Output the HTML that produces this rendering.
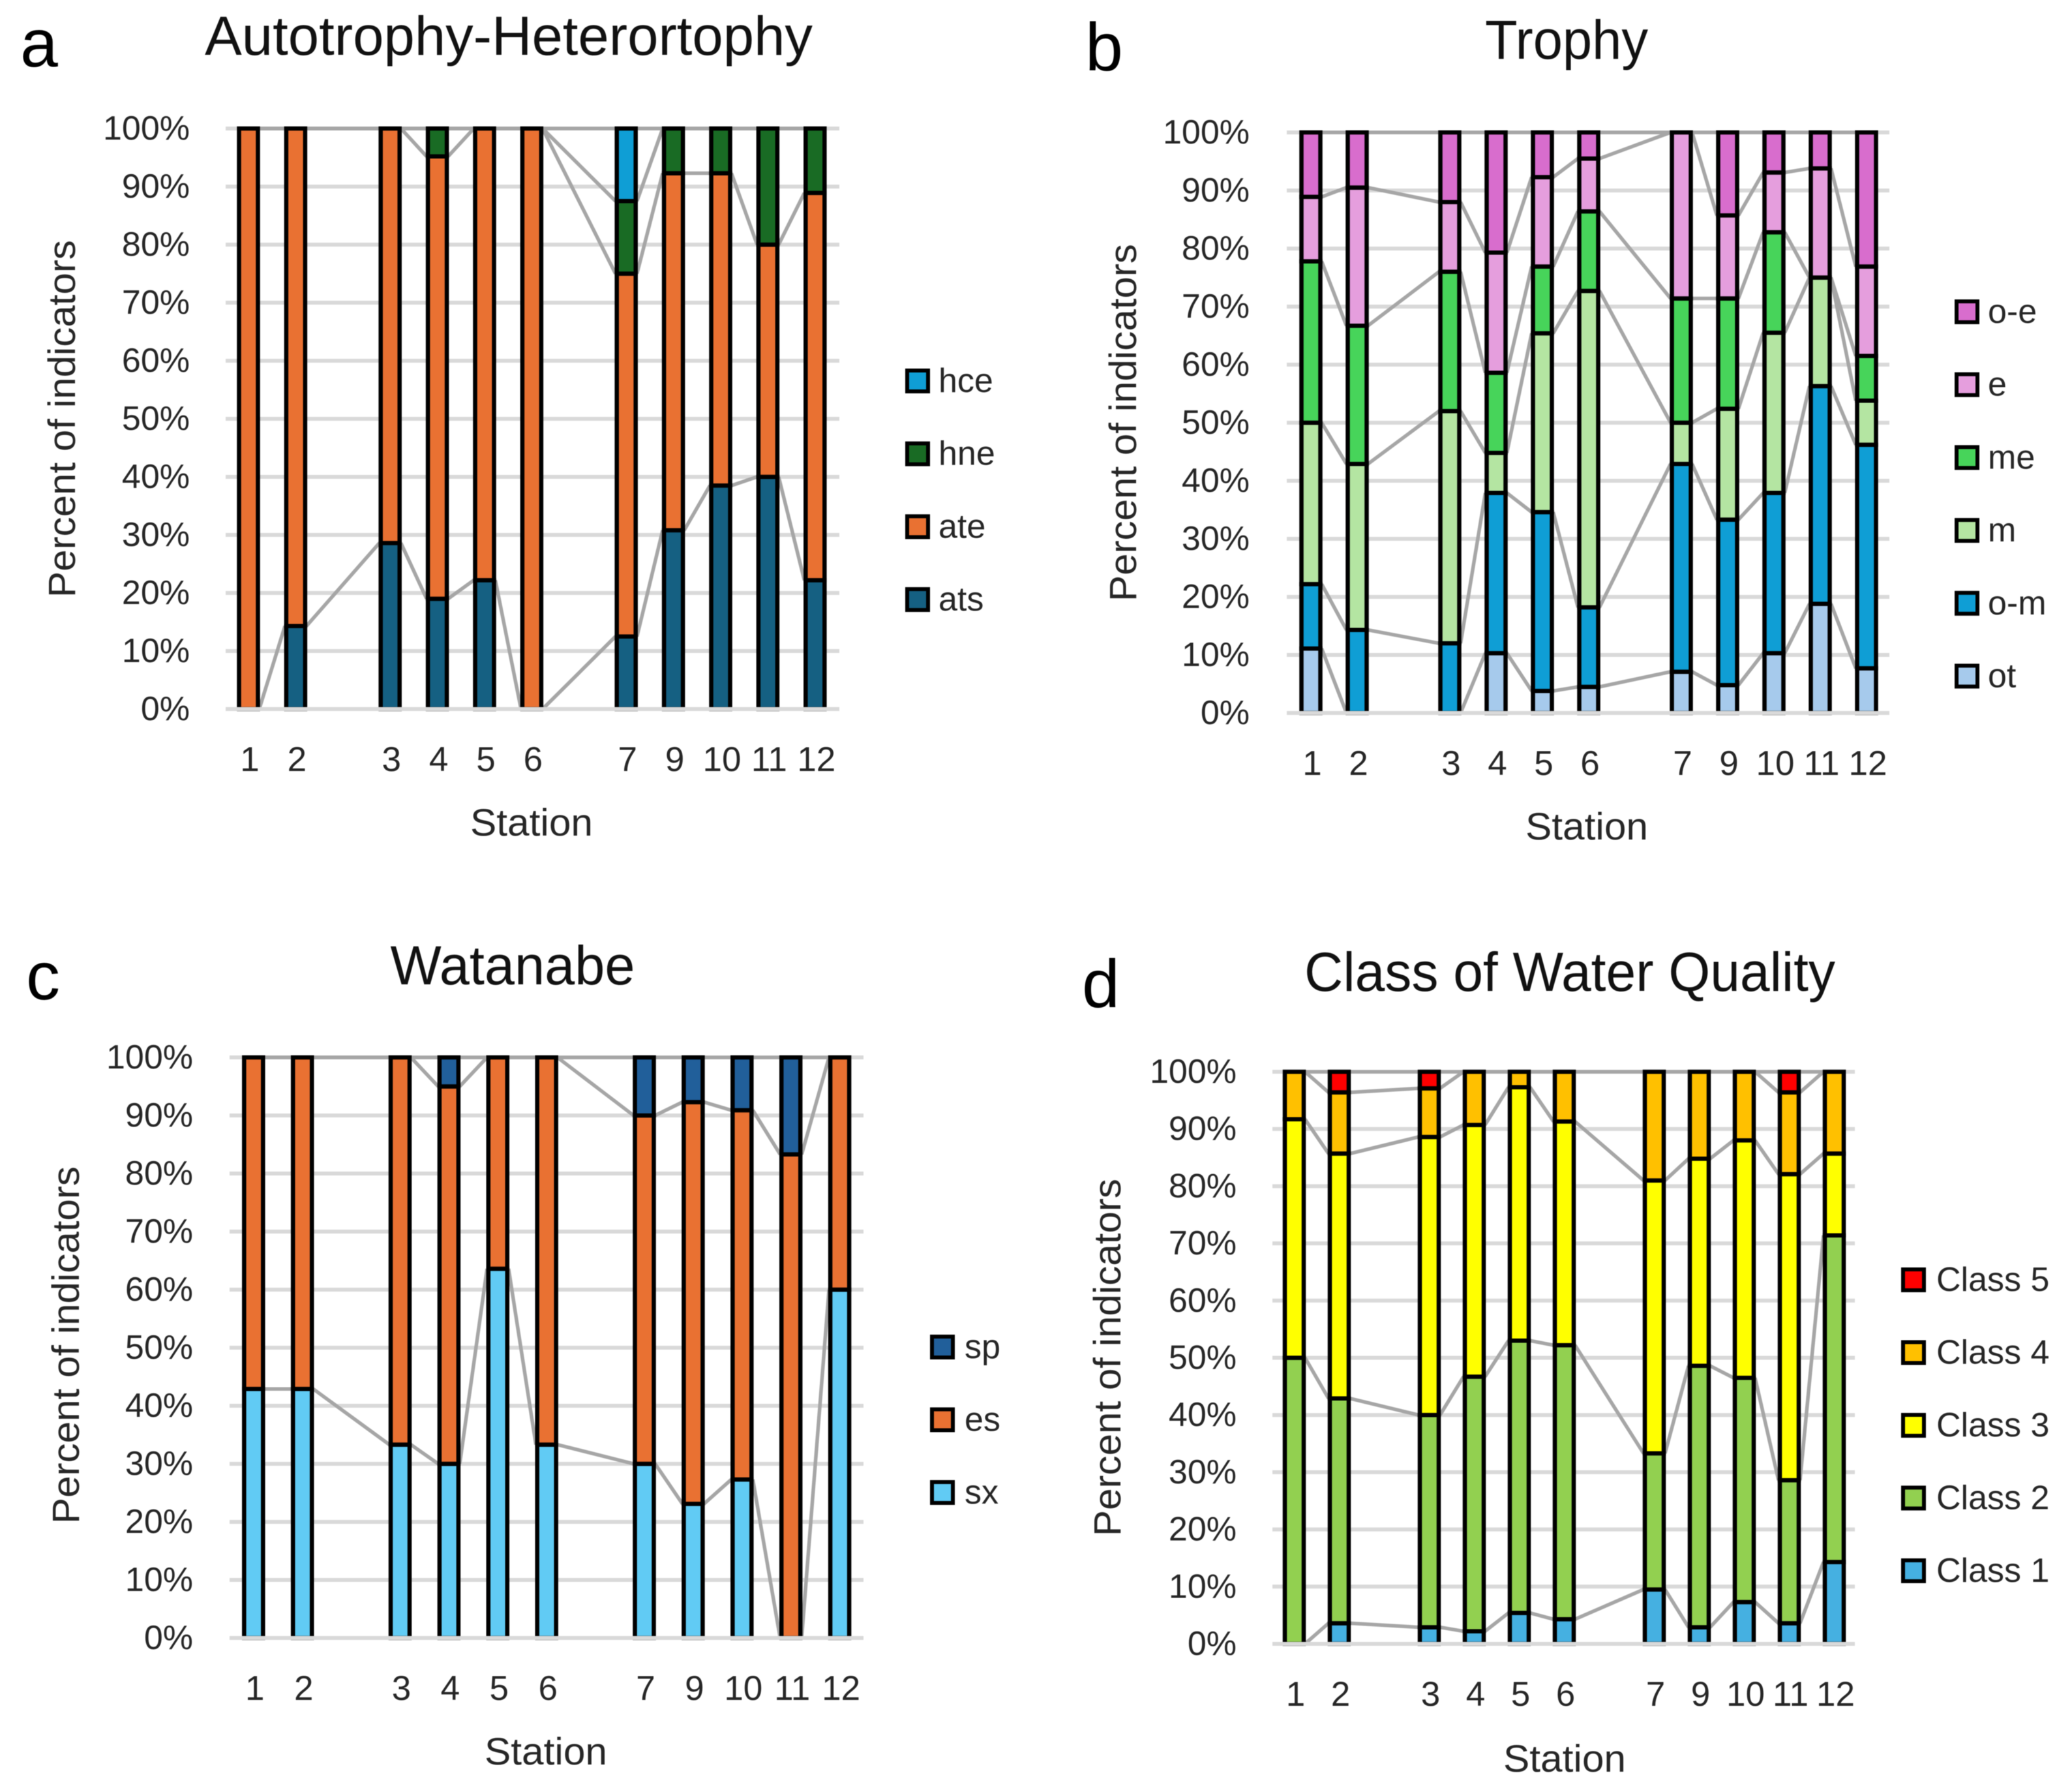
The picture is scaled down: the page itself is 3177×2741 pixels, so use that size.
<!DOCTYPE html>
<html lang="en">
<head>
<meta charset="utf-8">
<title>Indicator composition by station</title>
<style>
html,body{margin:0;padding:0;background:#fff;}
body{width:3177px;height:2741px;overflow:hidden;}
svg{display:block;filter:blur(0.5px);}
text{font-family:"Liberation Sans",sans-serif;}
</style>
</head>
<body>
<svg id="figure" xmlns="http://www.w3.org/2000/svg" width="3177" height="2741" viewBox="0 0 3177 2741"></svg>
<script>
// Shared axes data
const categories = ["1","2","","3","4","5","6","","7","9","10","11","12"];
const yTicks = [0,10,20,30,40,50,60,70,80,90,100];

// Panel a: Autotrophy-Heterortophy
const aNames = ["ats","ate","hne","hce"];
const aColors = ["#156082","#E97132","#196B24","#0F9ED5"];
const aAts = [0,14.3,null,28.6,19,22.2,0,null,12.5,30.8,38.5,40,22.2];
const aAte = [100,85.7,null,71.4,76.2,77.8,100,null,62.5,61.5,53.8,40,66.7];
const aHne = [0,0,null,0,4.8,0,0,null,12.5,7.7,7.7,20,11.1];
const aHce = [0,0,null,0,0,0,0,null,12.5,0,0,0,0];

// Panel b: Trophy
const bNames = ["ot","o-m","m","me","e","o-e"];
const bColors = ["#A6CAEC","#0F9ED5","#B4E5A2","#47D45A","#E59EDD","#D86DCD"];
const bOt = [11.1,0,null,0,10.3,3.8,4.5,null,7.1,4.8,10.3,18.8,7.7];
const bOm = [11.1,14.3,null,12,27.6,30.8,13.7,null,35.8,28.5,27.6,37.5,38.5];
const bM  = [27.8,28.6,null,40,6.9,30.8,54.5,null,7.1,19.1,27.6,18.7,7.6];
const bMe = [27.8,23.8,null,24,13.8,11.5,13.7,null,21.4,19,17.3,0,7.7];
const bE  = [11.1,23.8,null,12,20.7,15.4,9.1,null,28.6,14.3,10.3,18.8,15.4];
const bOe = [11.1,9.5,null,12,20.7,7.7,4.5,null,0,14.3,6.9,6.2,23.1];

// Panel c: Watanabe
const cNames = ["sx","es","sp"];
const cColors = ["#61CBF4","#E97132","#215F9A"];
const cSx = [42.9,42.9,null,33.3,30,63.6,33.3,null,30,23.1,27.3,0,60];
const cEs = [57.1,57.1,null,66.7,65,36.4,66.7,null,60,69.2,63.6,83.3,40];
const cSp = [0,0,null,0,5,0,0,null,10,7.7,9.1,16.7,0];

// Panel d: Class of Water Quality
const dNames = ["Class 1","Class 2","Class 3","Class 4","Class 5"];
const dColors = ["#45B0E1","#92D050","#FFFF00","#FFC000","#FF0000"];
const dC1 = [0,3.6,null,2.9,2.2,5.4,4.3,null,9.5,2.9,7.3,3.6,14.3];
const dC2 = [50,39.3,null,37.1,44.5,47.6,47.9,null,23.8,45.7,39.2,25,57.1];
const dC3 = [41.7,42.8,null,48.6,44,44.3,39.1,null,47.7,36.2,41.5,53.5,14.3];
const dC4 = [8.3,10.7,null,8.5,9.3,2.7,8.7,null,19,15.2,12,14.3,14.3];
const dC5 = [0,3.6,null,2.9,0,0,0,null,0,0,0,3.6,0];

const NS = "http://www.w3.org/2000/svg";
const figure = document.getElementById("figure");

function make(parent, tag, attrs, content) {
  const node = document.createElementNS(NS, tag);
  for (const k in attrs) node.setAttribute(k, attrs[k]);
  if (content !== undefined) node.textContent = content;
  parent.appendChild(node);
  return node;
}

function drawPanel(p) {
  const g = make(figure, "g", {});
  
  

  const xScale = i => p.x0 + i * p.step;
  const yScale = v => p.y0 + (p.y100 - p.y0) * v / 100;
  const halfBar = 14.5;

  const letter = make(g, "text", {x:p.letterX, y:p.letterY, "font-size":104, fill:"#000"}, p.letter);
  
  

  const title = make(g, "text", {x:p.titleX, y:p.titleY, "font-size":84, fill:"#111", "text-anchor":"middle", textLength:p.titleW, lengthAdjust:"spacingAndGlyphs"}, p.title);
  
  

  yTicks.forEach(t => {
    const grid = make(g, "line", {x1:p.gridL, x2:p.gridR, y1:yScale(t), y2:yScale(t), stroke:"#D9D9D9", "stroke-width":6});
    
    
    const tick = make(g, "text", {x:p.tickX, y:yScale(t) + 17, "font-size":52, fill:"#262626", "text-anchor":"end"}, t + "%");
    
    
  });

  const present = categories.map((c, i) => i).filter(i => p.series[0][i] !== null);

  // cumulative tops per series
  const tops = p.series.map((s, k) => categories.map((c, i) => {
    if (s[i] === null) return null;
    let sum = 0;
    for (let j = 0; j <= k; j++) sum += p.series[j][i];
    return sum;
  }));

  // connecting series lines
  tops.forEach(top => {
    for (let n = 0; n + 1 < present.length; n++) {
      const a = present[n], b = present[n + 1];
      const link = make(g, "line", {x1:xScale(a) + halfBar + 2, x2:xScale(b) - halfBar - 2, y1:yScale(top[a]), y2:yScale(top[b]), stroke:"#A6A6A6", "stroke-width":5.5});
      
      
    }
  });

  // stacked bars
  present.forEach(i => {
    let base = 0;
    p.series.forEach((s, k) => {
      const v = s[i];
      if (v > 0) {
        const yTop = yScale(base + v), yBot = yScale(base);
        const bar = make(g, "rect", {x:xScale(i) - halfBar, y:yTop, width:halfBar * 2, height:yBot - yTop, fill:p.colors[k], stroke:"#000", "stroke-width":6.5});
        
        
      }
      base += v;
    });
  });

  // baseline sits over the bar bottoms
  const baseline = make(g, "line", {x1:p.gridL, x2:p.gridR, y1:p.y0, y2:p.y0, stroke:"#D9D9D9", "stroke-width":6});
  
  

  categories.forEach((c, i) => {
    if (c === "") return;
    const label = make(g, "text", {x:xScale(i) + 2, y:p.y0 + 95, "font-size":53, fill:"#262626", "text-anchor":"middle"}, c);
    
    
  });

  const xTitle = make(g, "text", {x:p.xTitleX, y:p.xTitleY, "font-size":58, fill:"#262626", "text-anchor":"middle", textLength:188, lengthAdjust:"spacingAndGlyphs"}, "Station");
  
  

  const yTitle = make(g, "text", {transform:"translate(" + p.yTitleX + "," + p.yTitleY + ") rotate(-90)", "font-size":58, fill:"#262626", "text-anchor":"middle", textLength:548, lengthAdjust:"spacingAndGlyphs"}, "Percent of indicators");
  
  

  // legend, top entry is the last series
  p.names.slice().reverse().forEach((name, n) => {
    const k = p.names.length - 1 - n;
    const cy = p.legendY + n * p.legendStep;
    const swatch = make(g, "rect", {x:p.legendX, y:cy - 16, width:32, height:32, fill:p.colors[k], stroke:"#000", "stroke-width":6});
    
    
    const entry = make(g, "text", {x:p.legendX + p.legendGap, y:cy + 17, "font-size":52, fill:"#262626"}, name);
    
    
  });
}

drawPanel({letter:"a", title:"Autotrophy-Heterortophy", names:aNames, colors:aColors, series:[aAts,aAte,aHne,aHce],
  x0:381, step:72.4, y100:197, y0:1087, gridL:346, gridR:1287, tickX:291,
  letterX:31, letterY:102, titleX:780, titleY:84, titleW:932,
  xTitleX:815, xTitleY:1281, yTitleX:115, yTitleY:642,
  legendX:1391, legendY:584, legendStep:111.7, legendGap:48});

drawPanel({letter:"b", title:"Trophy", names:bNames, colors:bColors, series:[bOt,bOm,bM,bMe,bE,bOe],
  x0:2010, step:71, y100:203, y0:1093, gridL:1973, gridR:2897, tickX:1916,
  letterX:1664, letterY:108, titleX:2402, titleY:90, titleW:250,
  xTitleX:2433, xTitleY:1287, yTitleX:1742, yTitleY:648,
  legendX:3000, legendY:478, legendStep:111.7, legendGap:48});

drawPanel({letter:"c", title:"Watanabe", names:cNames, colors:cColors, series:[cSx,cEs,cSp],
  x0:388.8, step:74.9, y100:1621, y0:2511, gridL:352, gridR:1324, tickX:296,
  letterX:40, letterY:1532, titleX:786, titleY:1509, titleW:375,
  xTitleX:837, xTitleY:2705, yTitleX:121, yTitleY:2062,
  legendX:1429, legendY:2065, legendStep:111.5, legendGap:50});

drawPanel({letter:"d", title:"Class of Water Quality", names:dNames, colors:dColors, series:[dC1,dC2,dC3,dC4,dC5],
  x0:1984.5, step:69, y100:1643, y0:2520, gridL:1951, gridR:2844, tickX:1896,
  letterX:1659, letterY:1544, titleX:2407, titleY:1519, titleW:814,
  xTitleX:2399, xTitleY:2716, yTitleX:1718, yTitleY:2081,
  legendX:2918, legendY:1962, legendStep:111.5, legendGap:51});
</script>
</body>
</html>
